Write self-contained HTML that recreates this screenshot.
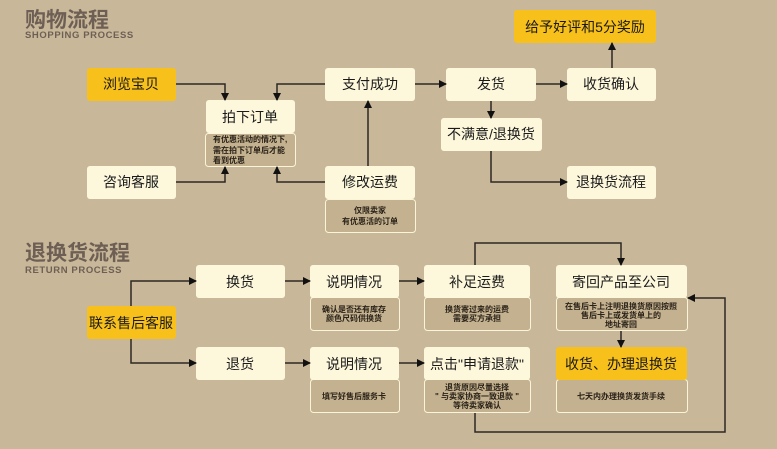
<!DOCTYPE html>
<html><head><meta charset="utf-8"><style>
html,body{margin:0;padding:0;background:#c8b899;}
svg{display:block;font-family:"Liberation Sans","Noto Sans CJK SC",sans-serif;}
</style></head><body>
<svg width="777" height="449" viewBox="0 0 777 449" xmlns="http://www.w3.org/2000/svg">
<defs><marker id="a" markerWidth="8" markerHeight="8" refX="7" refY="4" orient="auto" markerUnits="userSpaceOnUse"><path d="M0,0 L8,4 L0,8z" fill="#111"/></marker></defs>
<rect width="777" height="449" fill="#c8b899"/>
<g fill="#6e5f55" font-weight="bold">
<text x="25" y="27" font-size="21">购物流程</text>
<text x="25" y="38" font-size="9.5" letter-spacing="0.6">SHOPPING PROCESS</text>
<text x="25" y="260" font-size="21">退换货流程</text>
<text x="25" y="273" font-size="9.5" letter-spacing="0.6">RETURN PROCESS</text>
</g>
<g stroke="#faf4d8" stroke-width="1" fill="#c3b18f">
<rect x="205.5" y="133.5" width="90" height="33" rx="3"/>
<rect x="325.5" y="199.5" width="90" height="33" rx="3"/>
<rect x="310.5" y="297.5" width="89" height="33" rx="3"/>
<rect x="310.5" y="379.5" width="89" height="33" rx="3"/>
<rect x="424.5" y="297.5" width="106" height="33" rx="3"/>
<rect x="424.5" y="379.5" width="106" height="33" rx="3"/>
<rect x="556.5" y="297.5" width="131" height="33" rx="3"/>
<rect x="556.5" y="379.5" width="131" height="33" rx="3"/>
</g>
<g fill="#fdf8dc">
<rect x="206" y="100" width="89" height="33" rx="3"/>
<rect x="87" y="166" width="89" height="33" rx="3"/>
<rect x="325" y="68" width="90" height="33" rx="3"/>
<rect x="325" y="166" width="90" height="33" rx="3"/>
<rect x="446" y="68" width="90" height="33" rx="3"/>
<rect x="441" y="118" width="101" height="33" rx="3"/>
<rect x="567" y="68" width="89" height="33" rx="3"/>
<rect x="567" y="166" width="89" height="33" rx="3"/>
<rect x="196" y="265" width="89" height="33" rx="3"/>
<rect x="196" y="347" width="89" height="33" rx="3"/>
<rect x="310" y="265" width="89" height="33" rx="3"/>
<rect x="310" y="347" width="89" height="33" rx="3"/>
<rect x="424" y="265" width="106" height="33" rx="3"/>
<rect x="424" y="347" width="106" height="33" rx="3"/>
<rect x="556" y="265" width="131" height="33" rx="3"/>
</g>
<g fill="#f8c01a">
<rect x="87" y="68" width="89" height="33" rx="3"/>
<rect x="514" y="10" width="142" height="33" rx="3"/>
<rect x="87" y="306" width="89" height="33" rx="3"/>
<rect x="556" y="347" width="131" height="33" rx="3"/>
</g>
<g fill="none" stroke="#2d2924" stroke-width="1.5" marker-end="url(#a)">
<path d="M176,84 H225 V100"/>
<path d="M325,84 H277 V100"/>
<path d="M176,182 H225 V167"/>
<path d="M325,182 H277 V167"/>
<path d="M368,166 V101"/>
<path d="M415,84 H446"/>
<path d="M536,84 H567"/>
<path d="M612,68 V43"/>
<path d="M491,101 V118"/>
<path d="M491,151 V182 H567"/>
<path d="M131,306 V281 H196"/>
<path d="M131,339 V363 H196"/>
<path d="M285,281 H310"/>
<path d="M285,363 H310"/>
<path d="M399,281 H424"/>
<path d="M399,363 H424"/>
<path d="M475,265 V243 H621 V265"/>
<path d="M621,331 V347"/>
<path d="M475,413 V432 H725 V298 H688"/>
</g>
<g fill="#1a1a1a" font-size="14" text-anchor="middle">
<text x="131" y="89">浏览宝贝</text>
<text x="250" y="122">拍下订单</text>
<text x="131" y="187">咨询客服</text>
<text x="370" y="89">支付成功</text>
<text x="370" y="187">修改运费</text>
<text x="491" y="89">发货</text>
<text x="491" y="139">不满意/退换货</text>
<text x="611" y="89">收货确认</text>
<text x="585" y="32">给予好评和5分奖励</text>
<text x="611" y="187">退换货流程</text>
<text x="131" y="328">联系售后客服</text>
<text x="240" y="287">换货</text>
<text x="240" y="369">退货</text>
<text x="354" y="287">说明情况</text>
<text x="354" y="369">说明情况</text>
<text x="477" y="287">补足运费</text>
<text x="477" y="369">点击"申请退款"</text>
<text x="621" y="287">寄回产品至公司</text>
<text x="621" y="369">收货、办理退换货</text>
</g>
<g fill="#2a2218" font-size="8" text-anchor="middle" font-weight="bold">
<text x="213" y="142" text-anchor="start">有优惠活动的情况下,</text>
<text x="213" y="153" text-anchor="start">需在拍下订单后才能</text>
<text x="213" y="163" text-anchor="start">看到优惠</text>
<text x="370" y="213">仅限卖家</text>
<text x="370" y="224">有优惠活的订单</text>
<text x="354" y="312">确认是否还有库存</text>
<text x="354" y="321">颜色尺码供换货</text>
<text x="354" y="399">填写好售后服务卡</text>
<text x="477" y="312">换货寄过来的运费</text>
<text x="477" y="321">需要买方承担</text>
<text x="621" y="309">在售后卡上注明退换货原因按照</text>
<text x="621" y="318">售后卡上或发货单上的</text>
<text x="621" y="327">地址寄回</text>
<text x="477" y="390">退货原因尽量选择</text>
<text x="477" y="399">" 与卖家协商一致退款 "</text>
<text x="477" y="408">等待卖家确认</text>
<text x="621" y="399">七天内办理换货发货手续</text>
</g>
</svg>
</body></html>
